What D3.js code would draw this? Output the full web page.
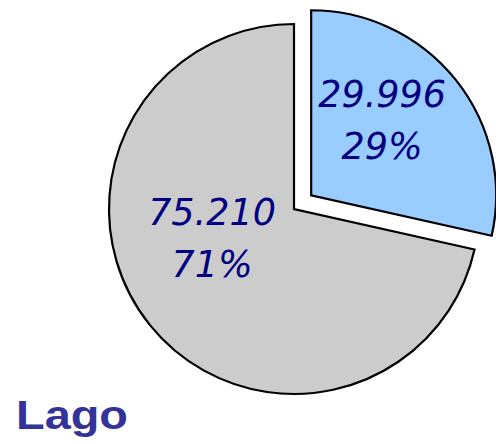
<!DOCTYPE html>
<html>
<head>
<meta charset="utf-8">
<script src="https://cdn.jsdelivr.net/npm/d3@7"></script>
<style>
  html, body { margin: 0; padding: 0; background: #fff; }
  svg { display: block; }
</style>
</head>
<body>
<svg id="chart" width="496" height="444"></svg>
<script>
const categories = ["A", "B"];
const values = [29.996, 75.210];
const valueLabels = ["29.996", "75.210"];
const colors = ["#99ccff", "#cccccc"];
const title = "Lago";

const svg = d3.select("#chart");
const cx = 294, cy = 209, r = 185;
const explode = [22, 0];

const total = d3.sum(values);
const pie = d3.pie().sort(null).value(d => d)(values);
const arc = d3.arc().innerRadius(0).outerRadius(r);

const g = svg.append("g").attr("transform", `translate(${cx},${cy})`);

const slices = g.selectAll("g.slice").data(pie).join("g")
  .attr("class", "slice")
  .attr("transform", (d, i) => {
    const a = (d.startAngle + d.endAngle) / 2;
    return `translate(${Math.sin(a) * explode[i]},${-Math.cos(a) * explode[i]})`;
  });

slices.append("path")
  .attr("d", arc)
  .attr("fill", (d, i) => colors[i])
  .attr("stroke", "#000")
  .attr("stroke-width", 2.2)
  .attr("stroke-linejoin", "miter");

// label block centres relative to slice centre
const labelPos = [[71, -75], [-82, 29]];
slices.each(function(d, i) {
  const t = d3.select(this).append("text")
    .attr("text-anchor", "middle")
    .attr("font-family", "DejaVu Sans, Verdana, sans-serif")
    .attr("font-style", "italic")
    .attr("font-size", 36.5)
    .attr("fill", "#000080");
  const pct = d3.format(".0%")(values[i] / total);
  t.append("tspan").attr("x", labelPos[i][0]).attr("y", labelPos[i][1] - 13).text(valueLabels[i]);
  t.append("tspan").attr("x", labelPos[i][0]).attr("y", labelPos[i][1] + 39).text(pct);
});

svg.append("text")
  .attr("x", 16).attr("y", 429)
  .attr("font-family", "Liberation Sans, Arial, sans-serif")
  .attr("font-weight", "bold")
  .attr("font-size", 40)
  .attr("fill", "#333399")
  .attr("textLength", 112)
  .attr("lengthAdjust", "spacingAndGlyphs")
  .text(title);
</script>
</body>
</html>
